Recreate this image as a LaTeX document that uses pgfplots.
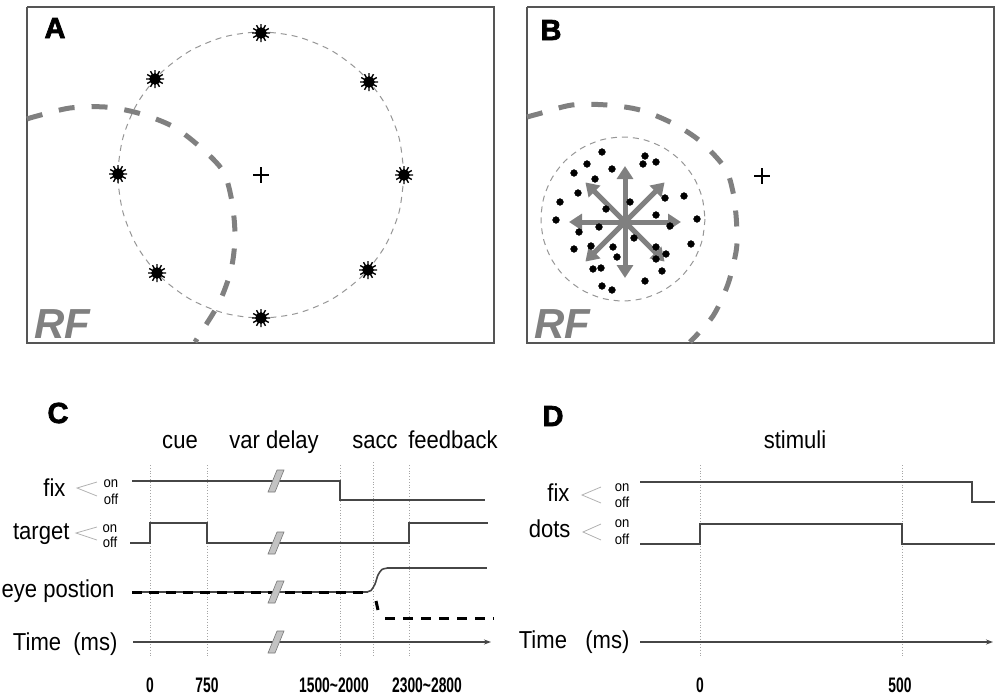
\documentclass[border=0pt]{standalone}
\usepackage{fontspec}
\setmainfont{Liberation Sans}
\newfontfamily\heavyfont{Liberation Sans Bold}[FakeBold=2.5]
\usepackage{graphicx}
\usepackage{pgfplots}
\pgfplotsset{compat=1.18}
\usetikzlibrary{arrows.meta}

\definecolor{boxgray}{RGB}{85,85,85}
\definecolor{rfgray}{RGB}{128,128,128}
\definecolor{ringgray}{RGB}{150,150,150}
\definecolor{sig}{RGB}{70,70,70}
\definecolor{dotgray}{RGB}{165,165,165}
\definecolor{brkfill}{RGB}{195,195,195}
\definecolor{brkline}{RGB}{120,120,120}
\definecolor{txt}{RGB}{40,40,40}

\newcommand{\lab}[1]{\scalebox{0.9}[1]{\fontsize{24.5}{28}\selectfont #1}}
\newcommand{\sml}[1]{\scalebox{0.9}[1]{\fontsize{14.5}{16}\selectfont #1}}
\newcommand{\tk}[1]{\scalebox{0.66}[1]{\fontsize{21}{24}\selectfont\bfseries #1}}
\newcommand{\pan}[1]{{\fontsize{29}{30}\selectfont\heavyfont #1}}

\begin{document}
\begin{tikzpicture}
\begin{axis}[
    width=995pt, height=696pt, scale only axis,
    xmin=0, xmax=995, ymin=0, ymax=696,
    y dir=reverse,
    hide axis,
    every node/.style={text=txt, inner sep=0pt},
]
\addplot[draw=none, forget plot] coordinates {(0,0) (995,696)};

% ---- panel frames
\addplot[boxgray, line width=1.5pt] coordinates {(27,7) (494,7) (494,343) (27,343) (27,7)};
\addplot[boxgray, line width=1.5pt] coordinates {(527,7) (994,7) (994,343) (527,343) (527,7)};

% ---- A: target ring
\addplot[ringgray, line width=1pt, dash pattern=on 6pt off 5pt, smooth] coordinates {
  (404,175) (399.1,212.0) (384.8,246.5) (362.1,276.1) (332.5,298.8) (298.0,313.1)
  (261,318) (224.0,313.1) (189.5,298.8) (159.9,276.1) (137.2,246.5) (122.9,212.0)
  (118,175) (122.9,138.0) (137.2,103.5) (159.9,73.9) (189.5,51.2) (224.0,36.9)
  (261,32) (298.0,36.9) (332.5,51.2) (362.1,73.9) (384.8,103.5) (399.1,138.0) (404,175)};

% ---- A: RF border
\addplot[rfgray, line width=5pt, dash pattern=on 16pt off 17pt, smooth] coordinates {
  (27,119) (37,116) (70,108) (105,107) (138,113) (172,126) (199,146) (223,171)
  (232,202) (235,237) (231,270) (219,303) (200,334) (195,342)};

% ---- A: targets
\addplot[only marks, mark=*, mark size=5.5pt, black] coordinates {
  (261,33) (155,79) (369,82) (118,174) (404,175) (157,273) (368,270) (261,318)};
\addplot[only marks, mark=asterisk, mark size=9pt, mark options={line width=1.4pt}, black] coordinates {
  (261,33) (155,79) (369,82) (118,174) (404,175) (157,273) (368,270) (261,318)};
\addplot[only marks, mark=asterisk, mark size=9pt, mark options={line width=1.4pt, rotate=90}, black] coordinates {
  (261,33) (155,79) (369,82) (118,174) (404,175) (157,273) (368,270) (261,318)};

% fixation crosses
\addplot[only marks, mark=+, mark size=8pt, mark options={line width=1.6pt}, black] coordinates {(261,175) (762,176)};

% ---- B: stimulus aperture
\addplot[ringgray, line width=1pt, dash pattern=on 6pt off 5pt, smooth] coordinates {
  (705,219) (702.2,240.2) (694.0,260.0) (681.0,277.0) (664.0,290.0) (644.2,298.2)
  (623,301) (601.8,298.2) (582.0,290.0) (565.0,277.0) (552.0,260.0) (543.8,240.2)
  (541,219) (543.8,197.8) (552.0,178.0) (565.0,161.0) (582.0,148.0) (601.8,139.8)
  (623,137) (644.2,139.8) (664.0,148.0) (681.0,161.0) (694.0,178.0) (702.2,197.8) (705,219)};

\addplot[rfgray, line width=5pt, dash pattern=on 16pt off 17pt, smooth] coordinates {
  (527,117) (538,114) (572,105) (607,105) (640,110) (672,123) (700,141) (725,168)
  (733,192) (736,215) (737,235) (736,252) (728,284) (713,316) (690,342)};

% random dots
\addplot[only marks, mark=*, mark size=3.4pt, black] coordinates {
  (602,152) (645,156) (643,164) (656,162) (587,164) (612,169) (574,173) (595,179)
  (578,193) (560,202) (630,202) (665,198) (684,196) (606,209) (656,215) (556,220)
  (697,219) (599,227) (670,226) (579,232) (634,238) (691,244) (574,249) (591,246)
  (613,247) (617,257) (656,247) (666,254) (656,259) (593,269) (601,268) (662,271)
  (602,286) (612,290) (645,281)};

% motion directions
\pgfplotsset{mv/.style={rfgray, line width=5pt, -{Triangle[length=13pt,width=16pt]}}}
\addplot[mv] coordinates {(625,222) (681,222)};
\addplot[mv] coordinates {(625,222) (569,222)};
\addplot[mv] coordinates {(625,222) (625,166)};
\addplot[mv] coordinates {(625,222) (625,278)};
\addplot[mv] coordinates {(625,222) (664.6,182.4)};
\addplot[mv] coordinates {(625,222) (585.4,182.4)};
\addplot[mv] coordinates {(625,222) (664.6,261.6)};
\addplot[mv] coordinates {(625,222) (585.4,261.6)};

\node[anchor=base west, text=black] at (axis cs:41,38) {\pan{A}};
\node[anchor=base west, text=black] at (axis cs:537,40) {\pan{B}};
\node[anchor=base west, font=\fontsize{42}{46}\selectfont\bfseries\itshape, text=rfgray] at (axis cs:31,338) {RF};
\node[anchor=base west, font=\fontsize{42}{46}\selectfont\bfseries\itshape, text=rfgray] at (axis cs:531,338) {RF};

% ---- C: timeline
\pgfplotsset{vl/.style={dotgray, line width=0.8pt, dotted}}
\addplot[vl] coordinates {(150,465) (150,657)};
\addplot[vl] coordinates {(207,465) (207,657)};
\addplot[vl] coordinates {(340,465) (340,657)};
\addplot[vl] coordinates {(373,462) (373,657)};
\addplot[vl] coordinates {(409,465) (409,657)};

\addplot[sig, line width=2pt] coordinates {(132,481) (340,481) (340,500) (485,500)};
\addplot[sig, line width=2pt] coordinates {(130,543) (150,543) (150,523) (207,523) (207,543) (409,543) (409,523) (488,523)};
\addplot[sig, line width=1.6pt] coordinates {(132,592) (368,592)};
\addplot[sig, line width=1.6pt, smooth, tension=0.5] coordinates {(366,592) (371,590.5) (375,584) (378,575) (382,569.5) (388,568)};
\addplot[sig, line width=1.6pt] coordinates {(387,568) (487,568)};
\addplot[black, line width=3pt, dash pattern=on 10pt off 7pt] coordinates {(132,592) (369,592)};
\addplot[black, line width=3pt] coordinates {(376,601) (378,610)};
\addplot[black, line width=3pt, dash pattern=on 10pt off 8pt] coordinates {(385,618) (494,618)};
\addplot[sig, line width=1.6pt, -{Stealth[length=7pt,width=5pt]}] coordinates {(133,642) (491,642)};

% breaks
\pgfplotsset{brk/.style={fill=brkfill, draw=brkline, line width=0.6pt}}
\addplot[brk] coordinates {(277,470) (284,470) (275,492) (268,492) (277,470)};
\addplot[brk] coordinates {(277,532) (284,532) (275,554) (268,554) (277,532)};
\addplot[brk] coordinates {(277,581) (284,581) (275,603) (268,603) (277,581)};
\addplot[brk] coordinates {(277,631) (284,631) (275,653) (268,653) (277,631)};

% on/off brackets
\addplot[gray!60, line width=0.8pt] coordinates {(97,482) (77,488) (97,496)};
\addplot[gray!60, line width=0.8pt] coordinates {(97,527) (76,533) (97,540)};

\node[anchor=base west, text=black] at (axis cs:44,423) {\pan{C}};
\node[anchor=base] at (axis cs:180,448) {\lab{cue}};
\node[anchor=base] at (axis cs:274,448) {\lab{var delay}};
\node[anchor=base] at (axis cs:375,448) {\lab{sacc}};
\node[anchor=base] at (axis cs:453,448) {\lab{feedback}};
\node[anchor=base east] at (axis cs:69,496) {\lab{fix}};
\node[anchor=base east] at (axis cs:73,539) {\lab{target}};
\node[anchor=base east] at (axis cs:118,597) {\lab{eye postion}};
\node[anchor=base east] at (axis cs:121,650) {\lab{Time\ \ (ms)}};
\node[anchor=base] at (axis cs:111,487) {\sml{on}};
\node[anchor=base] at (axis cs:111,504) {\sml{off}};
\node[anchor=base] at (axis cs:110,532) {\sml{on}};
\node[anchor=base] at (axis cs:110,547) {\sml{off}};
\node[anchor=base, text=black] at (axis cs:150,692) {\tk{0}};
\node[anchor=base, text=black] at (axis cs:207,692) {\tk{750}};
\node[anchor=base, text=black] at (axis cs:334,692) {\tk{1500\textasciitilde 2000}};
\node[anchor=base, text=black] at (axis cs:427,692) {\tk{2300\textasciitilde 2800}};

% ---- D: timeline
\addplot[vl] coordinates {(700,465) (700,657)};
\addplot[vl] coordinates {(902,465) (902,657)};
\addplot[sig, line width=2pt] coordinates {(640,482) (972,482) (972,502) (995,502)};
\addplot[sig, line width=2pt] coordinates {(640,544) (700,544) (700,524) (902,524) (902,544) (995,544)};
\addplot[sig, line width=1.6pt, -{Stealth[length=7pt,width=5pt]}] coordinates {(640,642) (993,642)};
\addplot[gray!60, line width=0.8pt] coordinates {(601,487) (582,495) (601,503)};
\addplot[gray!60, line width=0.8pt] coordinates {(601,524) (583,532) (601,540)};

\node[anchor=base west, text=black] at (axis cs:539,426) {\pan{D}};
\node[anchor=base] at (axis cs:795,448) {\lab{stimuli}};
\node[anchor=base east] at (axis cs:573,501) {\lab{fix}};
\node[anchor=base east] at (axis cs:574,537) {\lab{dots}};
\node[anchor=base east] at (axis cs:633,648) {\lab{Time\ \ \ (ms)}};
\node[anchor=base] at (axis cs:622,491) {\sml{on}};
\node[anchor=base] at (axis cs:622,507) {\sml{off}};
\node[anchor=base] at (axis cs:622,527) {\sml{on}};
\node[anchor=base] at (axis cs:622,544) {\sml{off}};
\node[anchor=base, text=black] at (axis cs:700,692) {\tk{0}};
\node[anchor=base, text=black] at (axis cs:900,692) {\tk{500}};
\end{axis}
\end{tikzpicture}
\end{document}
